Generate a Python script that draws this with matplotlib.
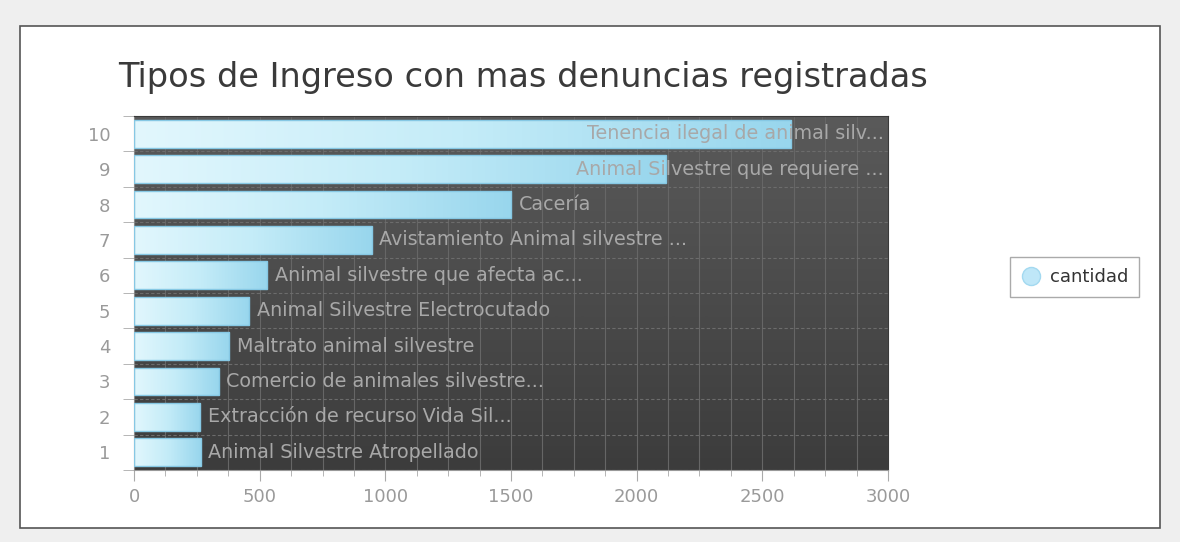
import matplotlib.pyplot as plt
import numpy as np
from matplotlib.patches import Rectangle
from matplotlib.lines import Line2D
from matplotlib.colors import LinearSegmentedColormap

# datos (posicion 1 = abajo)
posiciones = [1, 2, 3, 4, 5, 6, 7, 8, 9, 10]
cantidad = [265, 264, 338, 378, 459, 530, 945, 1501, 2115, 2616]
etiquetas = [
    "Animal Silvestre Atropellado",
    "Extracción de recurso Vida Sil...",
    "Comercio de animales silvestre...",
    "Maltrato animal silvestre",
    "Animal Silvestre Electrocutado",
    "Animal silvestre que afecta ac...",
    "Avistamiento Animal silvestre ...",
    "Cacería",
    "Animal Silvestre que requiere ...",
    "Tenencia ilegal de animal silv...",
]
titulo = "Tipos de Ingreso con mas denuncias registradas"
serie = "cantidad"

W, H = 1180, 542
fig = plt.figure(figsize=(W / 100, H / 100), dpi=100, facecolor="#efefef")

# panel blanco con borde
fig.patches.append(Rectangle((20 / W, 1 - 528 / H), 1140 / W, 502 / H,
                             transform=fig.transFigure, facecolor="white",
                             edgecolor="#555555", lw=1.2, zorder=-5))

ax = fig.add_axes([134 / W, 72 / H, 754 / W, 354 / H])

# fondo oscuro con degradado vertical
fondo = LinearSegmentedColormap.from_list("fondo", ["#3c3c3c", "#5a5a5a"])
ax.imshow(np.linspace(0, 1, 256).reshape(-1, 1)[::-1], extent=[0, 3000, 0.5, 10.5],
          aspect="auto", cmap=fondo, zorder=0)

# barras con degradado horizontal
azul = LinearSegmentedColormap.from_list("azul", ["#e2f7fd", "#c4ecf8", "#98d6ed"])
barras = ax.barh(posiciones, cantidad, height=0.78, color="none",
                 edgecolor="#86c8e4", lw=1, zorder=3)
for b in barras:
    x0, y0 = b.get_x(), b.get_y()
    im = ax.imshow(np.linspace(0, 1, 256).reshape(1, -1),
                   extent=[x0, x0 + b.get_width(), y0, y0 + b.get_height()],
                   aspect="auto", cmap=azul, zorder=2.5)
    im.set_clip_path(b)

for p, v, lab in zip(posiciones, cantidad, etiquetas):
    if v > 2000:
        ax.text(2985, p, lab, ha="right", va="center", color="#a8a8a8", fontsize=13.8, zorder=4)
    else:
        ax.text(v + 30, p, lab, ha="left", va="center", color="#a8a8a8", fontsize=13.8, zorder=4)

ax.set_xlim(0, 3000)
ax.set_ylim(0.5, 10.5)

ax.set_xticks(np.arange(0, 3001, 500))
ax.set_xticks(np.arange(0, 3001, 125), minor=True)
ax.set_yticks(posiciones)
ax.set_yticks(np.arange(0.5, 11, 1), minor=True)

ax.grid(which="both", axis="x", color="#666666", lw=0.8, zorder=1)
ax.grid(which="minor", axis="y", color="#6c6c6c", lw=0.8, ls=(0, (3, 2)), zorder=1)
ax.set_axisbelow(True)

ax.tick_params(axis="x", which="major", length=8, color="#aaaaaa",
               labelcolor="#9a9a9a", labelsize=13, pad=5)
ax.tick_params(axis="x", which="minor", length=4, color="#aaaaaa")
ax.tick_params(axis="y", which="major", length=0, labelcolor="#9a9a9a",
               labelsize=13, pad=17)
ax.tick_params(axis="y", which="minor", length=8, color="#aaaaaa")

ax.spines["left"].set_color("#888888")
ax.spines["bottom"].set_color("#999999")
ax.spines["top"].set_color("#3a3a3a")
ax.spines["right"].set_color("#3a3a3a")

fig.text(118 / W, 1 - 78 / H, titulo, fontsize=24.2, color="#3a3a3a", va="center")

marca = Line2D([], [], marker="o", ls="none", markersize=13,
               markerfacecolor="#bfe7f8", markeredgecolor="#a3d9f0")
leg = ax.legend([marca], [serie], loc="center left",
                bbox_to_anchor=(1010 / W, 1 - 277 / H), bbox_transform=fig.transFigure,
                borderaxespad=0, fancybox=False, edgecolor="#aaaaaa", fontsize=13,
                handlelength=1.1, handletextpad=0.5, borderpad=0.6, framealpha=1)
for t in leg.get_texts():
    t.set_color("#333333")

fig.savefig("out.png", dpi=100, facecolor=fig.get_facecolor())
